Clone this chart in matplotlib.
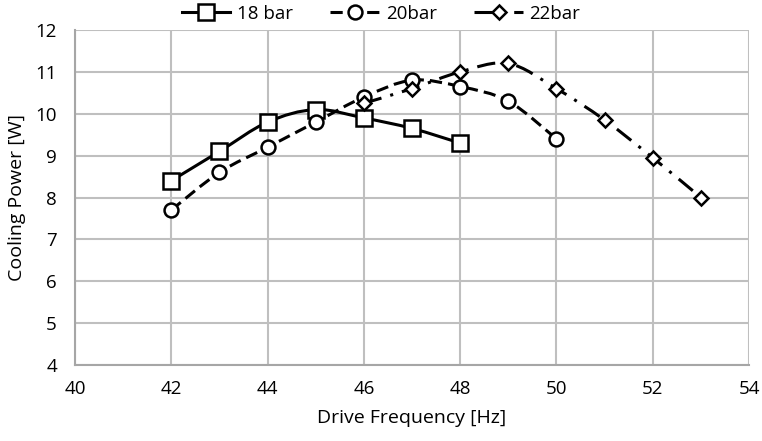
import matplotlib
matplotlib.use('Agg')
import matplotlib.pyplot as plt
from matplotlib.path import Path
from matplotlib.patches import PathPatch
from matplotlib.lines import Line2D

plt.rcParams['font.family'] = ['Open Sans', 'DejaVu Sans']

# data
freq_18 = [42, 43, 44, 45, 46, 47, 48]
power_18 = [8.4, 9.1, 9.8, 10.1, 9.9, 9.65, 9.3]

freq_20 = [42, 43, 44, 45, 46, 47, 48, 49, 50]
power_20 = [7.7, 8.6, 9.2, 9.8, 10.4, 10.8, 10.65, 10.3, 9.4]

freq_22 = [46, 47, 48, 49, 50, 51, 52, 53]
power_22 = [10.25, 10.6, 11.0, 11.2, 10.6, 9.85, 8.95, 8.0]

labels = ['18 bar', '20bar', '22bar']


def smooth_path(x, y):
    # excel style smoothed line, bezier segments through the points
    n = len(x)
    verts = [(x[0], y[0])]
    codes = [Path.MOVETO]
    for i in range(n - 1):
        p0 = (x[i - 1], y[i - 1]) if i > 0 else (x[i], y[i])
        p1 = (x[i], y[i])
        p2 = (x[i + 1], y[i + 1])
        p3 = (x[i + 2], y[i + 2]) if i + 2 < n else p2
        c1 = (p1[0] + (p2[0] - p0[0]) / 6.0, p1[1] + (p2[1] - p0[1]) / 6.0)
        c2 = (p2[0] - (p3[0] - p1[0]) / 6.0, p2[1] - (p3[1] - p1[1]) / 6.0)
        verts += [c1, c2, p2]
        codes += [Path.CURVE4, Path.CURVE4, Path.CURVE4]
    return Path(verts, codes)


fig = plt.figure(figsize=(7.62, 4.41), dpi=100)
ax = fig.add_axes([0.0984, 0.1723, 0.8846, 0.7597])

series = [
    (freq_18, power_18, '-', 's', 11, (None, None)),
    (freq_20, power_20, '--', 'o', 10, (4, 2)),
    (freq_22, power_22, '-.', 'D', 7, (6, 3, 1, 3)),
]

handles = []
for (fx, py, ls, mk, ms, dash), lab in zip(series, labels):
    patch = PathPatch(smooth_path(fx, py), facecolor='none', edgecolor='black',
                      linewidth=2.2, zorder=3)
    if dash[0] is not None:
        patch.set_linestyle((0, dash))
    ax.add_patch(patch)
    ax.plot(fx, py, linestyle='none', marker=mk, markersize=ms,
            markerfacecolor='white', markeredgecolor='black',
            markeredgewidth=1.8, zorder=4)
    h = Line2D([], [], color='black', linewidth=2.2, marker=mk, markersize=ms,
               markerfacecolor='white', markeredgecolor='black',
               markeredgewidth=1.8)
    if dash[0] is not None:
        h.set_dashes(dash)
    handles.append(h)

ax.set_xlim(40, 54)
ax.set_ylim(4, 12)
ax.set_xticks(range(40, 55, 2))
ax.set_yticks(range(4, 13, 1))
ax.grid(True, color='#bfbfbf', linewidth=1.5)
ax.set_axisbelow(True)
for side in ['top', 'right']:
    ax.spines[side].set_visible(False)
for side in ['left', 'bottom']:
    ax.spines[side].set_color('#a6a6a6')
    ax.spines[side].set_linewidth(1.5)
ax.tick_params(axis='x', length=0, labelsize=13.5, pad=11)
ax.tick_params(axis='y', length=0, labelsize=13.5, pad=13)

ax.set_xlabel('Drive Frequency [Hz]', fontsize=14, labelpad=8)
ax.set_ylabel('Cooling Power [W]', fontsize=14, labelpad=7)

fig.legend(handles, labels, loc='upper center', bbox_to_anchor=(0.5, 1.028),
           ncol=3, frameon=False, fontsize=13.5, handlelength=2.6,
           handletextpad=0.35, columnspacing=2.0)

plt.savefig('out.png', dpi=100)
